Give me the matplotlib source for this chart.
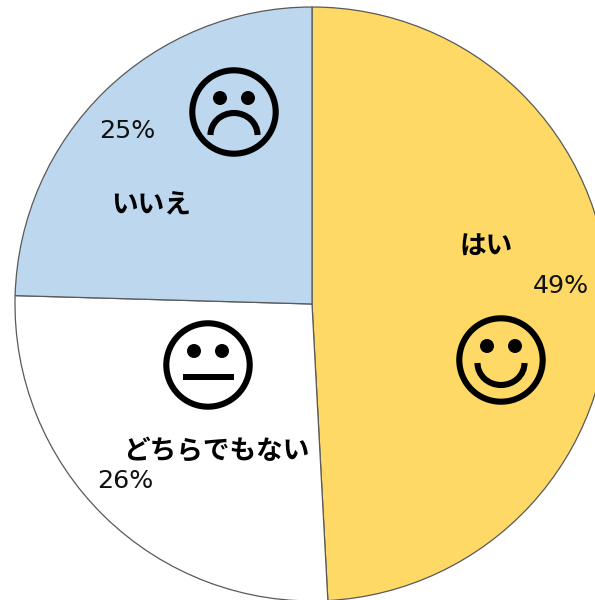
"""Pie chart of yes / neither / no answers with a face drawn on each slice."""

import matplotlib

matplotlib.use("Agg")

import matplotlib.pyplot as plt
from matplotlib.patches import Arc, Circle, Rectangle

plt.rcParams["font.family"] = ["Noto Sans CJK JP", "DejaVu Sans"]

# Data
CATEGORIES = ["はい", "どちらでもない", "いいえ"]
VALUES = [49.15, 26.3, 24.55]
PERCENT_LABELS = ["49%", "26%", "25%"]

# Styling, all positions in reference pixels (y measured from the top)
WIDTH, HEIGHT = 595, 600
CENTER = (312, 304)
RADIUS = 297
COLORS = ["#FFD966", "#FFFFFF", "#BDD7EE"]
EDGE_COLOR = "#595959"
CATEGORY_POS = [(486, 247), (216, 452), (151, 206)]
PERCENT_POS = [(561, 286), (125, 481), (127, 131)]
FACE_RADIUS = 41.7
FACE_LINE = 4.4


def py(y):
    """Convert a y pixel measured from the top to axes coordinates."""
    return HEIGHT - y


def draw_face(ax, cx, cy):
    """Draw the ring and the two eyes shared by all the faces."""
    ax.add_patch(Circle((cx, py(cy)), FACE_RADIUS, fill=False, ec="black",
                        lw=FACE_LINE, zorder=4))
    for dx in (-14, 14):
        ax.add_patch(Circle((cx + dx, py(cy - 14)), 7, color="black", lw=0, zorder=4))


def main():
    fig = plt.figure(figsize=(WIDTH / 100, HEIGHT / 100), dpi=100)
    ax = fig.add_axes([0, 0, 1, 1])

    ax.pie(
        VALUES,
        colors=COLORS,
        center=(CENTER[0], py(CENTER[1])),
        radius=RADIUS,
        startangle=90,
        counterclock=False,
        wedgeprops={"edgecolor": EDGE_COLOR, "linewidth": 0.9},
        frame=True,
    )
    ax.set_xlim(0, WIDTH)
    ax.set_ylim(0, HEIGHT)
    ax.set_aspect("equal")
    ax.axis("off")

    for name, (x, y) in zip(CATEGORIES, CATEGORY_POS):
        ax.text(x, py(y), name, ha="center", va="center", fontsize=19.2,
                fontweight="bold", color="black", zorder=5)
    for label, (x, y) in zip(PERCENT_LABELS, PERCENT_POS):
        ax.text(x, py(y), label, ha="center", va="center", fontsize=18.2,
                family="DejaVu Sans", color="#111111", zorder=5)

    # happy
    draw_face(ax, 501, 360)
    ax.add_patch(Arc((501, py(363)), 47, 44, theta1=180, theta2=360, ec="black",
                     lw=FACE_LINE, capstyle="butt", zorder=4))
    # neutral
    draw_face(ax, 208, 365)
    ax.add_patch(Rectangle((183, py(380)), 51, 6, color="black", lw=0, zorder=4))
    # sad
    draw_face(ax, 234, 112)
    ax.add_patch(Arc((234, py(135)), 47, 44, theta1=0, theta2=180, ec="black",
                     lw=FACE_LINE, capstyle="butt", zorder=4))

    fig.savefig("out.png", dpi=100)


if __name__ == "__main__":
    main()
